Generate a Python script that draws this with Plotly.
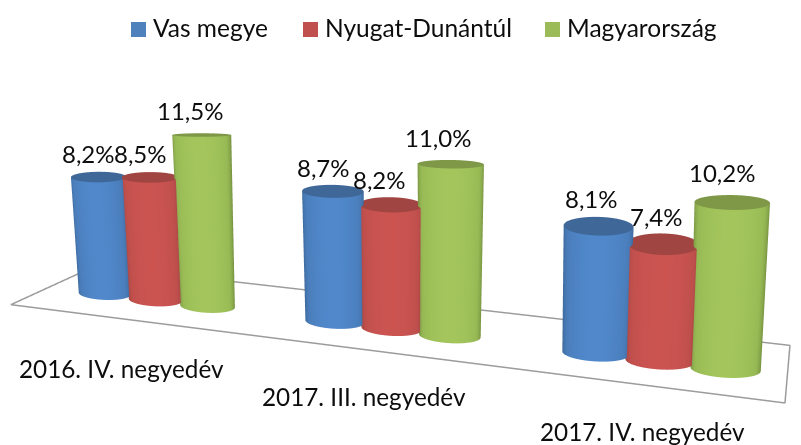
import numpy as np
import plotly.graph_objects as go

# --- data -----------------------------------------------------------------
categories = ["2016. IV. negyedév", "2017. III. negyedév", "2017. IV. negyedév"]
series_names = ["Vas megye", "Nyugat-Dunántúl", "Magyarország"]
vas_megye = [8.2, 8.7, 8.1]
nyugat_dunantul = [8.5, 8.2, 7.4]
magyarorszag = [11.5, 11.0, 10.2]
series_values = [vas_megye, nyugat_dunantul, magyarorszag]

# --- styles -----------------------------------------------------------------
palette = [
    dict(edge="#37608f", mid="#4a7dba", hi="#5088cb", top="#3f6899", key="#4f81bd"),
    dict(edge="#8f3f3d", mid="#bf4f4c", hi="#cb5451", top="#a04541", key="#c0504d"),
    dict(edge="#6a8439", mid="#98ba55", hi="#a3c55c", top="#7e9848", key="#9bbb59"),
]
FONT = "Lato, Carlito, Calibri, sans-serif"
INK = "#0d0d0d"
W, H = 793, 437   # the page adds an 8 px body margin

# --- scene geometry ---------------------------------------------------------
K = 0.0636            # scene units per percentage point
GROUP_X = [-1.105, -0.056, 1.004]
X_BAR = 0.242
Y_BAR = 0.122
RADIUS = 0.126
RY_TOP, RY_BOTTOM = 1.4, 0.6
Y_FRONT, Y_BACK = -0.1012, 0.4518
TILT = 0.0687
TAN_PITCH = 0.2126
LEAN_FIX = 0.65


def floor_pct(x):
    return (-0.4808 - TILT * (np.asarray(x, dtype=float) - 0.0142)) / K


def view_slope(cx):
    return (0.9903 * cx + 0.019) / (2.2325 - 0.1219 * cx)


def lean_per_pct(cx):
    return -LEAN_FIX * TAN_PITCH * view_slope(cx) * K


def depth_shear(cx):
    return -(0.1406 - 0.978 * view_slope(cx))


def bar_traces(cx, value, style):
    theta = np.linspace(0, 2 * np.pi, 97)
    base = float(floor_pct(cx))
    top = base + value
    lean = lean_per_pct(cx) * value
    shear = depth_shear(cx)
    ry = np.array([[RY_BOTTOM], [RY_TOP]]) * RADIUS
    dy = ry * np.sin(theta)[None, :]
    sx = (cx + np.array([[0.0], [lean]]) + RADIUS * np.cos(theta)[None, :] + shear * dy)
    sy = Y_BAR + dy
    sz = np.array([[base], [top]]) * np.ones((1, theta.size))
    lit = np.clip(-np.sin(theta), 0, 1)
    shade = np.vstack([lit, lit])
    scale = [[0, style["edge"]], [0.55, style["mid"]], [1, style["hi"]]]
    common = dict(showscale=False, hoverinfo="skip", cmin=0, cmax=1,
                  lighting=dict(ambient=1, diffuse=0, specular=0, roughness=1, fresnel=0))
    side = go.Surface(x=sx, y=sy, z=sz, surfacecolor=shade, colorscale=scale, **common)
    rr = np.array([0.0, 1.0])[:, None]
    cdy = RADIUS * RY_TOP * rr * np.sin(theta)[None, :]
    cxx = cx + lean + RADIUS * rr * np.cos(theta)[None, :] + shear * cdy
    cyy = Y_BAR + cdy
    czz = np.full(cxx.shape, top)
    cap = go.Surface(x=cxx, y=cyy, z=czz, surfacecolor=np.zeros(cxx.shape),
                     colorscale=[[0, style["top"]], [1, style["top"]]], **common)
    return [side, cap]


fig = go.Figure()

# floor outline
fx = [-1.644, -1.596, 1.343, 1.65]
fy = [Y_BACK, Y_FRONT, Y_FRONT, Y_BACK]
fig.add_trace(go.Scatter3d(x=fx + [-1.644], y=fy + [Y_BACK],
                           z=list(floor_pct(fx)) + [float(floor_pct(-1.644))],
                           mode="lines", line=dict(color="#9c9c9c", width=3),
                           hoverinfo="skip", showlegend=False))

annotations = []
label_dx = [[-10, -10, -12], [-9, -11, -12], [-7, -7, -10]]
label_dy = [[23, 23, 24], [23, 25, 26], [27, 27, 29]]
cat_dx = [0, -17, -38]
cat_dy = [-50, -45, -42]

for g, cat in enumerate(categories):
    cg = GROUP_X[g]
    annotations.append(dict(x=cg, y=Y_FRONT, z=float(floor_pct(cg)), text=cat, showarrow=False,
                            xshift=cat_dx[g], yshift=cat_dy[g],
                            font=dict(family=FONT, size=24.3, color=INK)))
    for s, values in enumerate(series_values):
        cx = cg + (s - 1) * X_BAR
        for tr in bar_traces(cx, values[g], palette[s]):
            fig.add_trace(tr)
        annotations.append(dict(x=cx + lean_per_pct(cx) * values[g], y=Y_BAR,
                                z=float(floor_pct(cx)) + values[g],
                                text=f"{values[g]:.1f}%".replace(".", ","), showarrow=False,
                                xshift=label_dx[g][s], yshift=label_dy[g][s],
                                font=dict(family=FONT, size=24, color=INK)))

# legend drawn at the top of the page
key_x = [131, 303, 545]
text_x = [153, 325, 567]
shapes = []
page_notes = []
for s, name in enumerate(series_names):
    shapes.append(dict(type="rect", xref="paper", yref="paper",
                       x0=(key_x[s] - 8) / W, x1=(key_x[s] + 7) / W,
                       y0=1 - 29 / H, y1=1 - 14 / H,
                       fillcolor=palette[s]["key"], line=dict(width=0)))
    page_notes.append(dict(xref="paper", yref="paper", x=(text_x[s] - 8) / W, y=1 - 20 / H,
                           xanchor="left", yanchor="middle", xshift=-2, text=name, showarrow=False,
                           font=dict(family=FONT, size=24.5, color=INK)))

axis = dict(visible=False, showspikes=False)
fig.update_layout(
    width=W, height=H, margin=dict(l=0, r=0, t=0, b=0),
    paper_bgcolor="white", showlegend=False,
    shapes=shapes, annotations=page_notes,
    scene=dict(
        domain=dict(x=[0, 1], y=[0, 1]),
        xaxis=dict(range=[-2, 2], **axis),
        yaxis=dict(range=[-1, 1], **axis),
        zaxis=dict(range=[-1 / K, 1 / K], **axis),
        aspectmode="manual", aspectratio=dict(x=4, y=2, z=2),
        camera=dict(eye=dict(x=0.2845, y=-1.9026, z=0.3917),
                    center=dict(x=0.0171, y=-0.0011, z=-0.0164), up=dict(x=0, y=0, z=1)),
        annotations=annotations,
        bgcolor="white",
    ),
)
fig.write_html("out.html")
